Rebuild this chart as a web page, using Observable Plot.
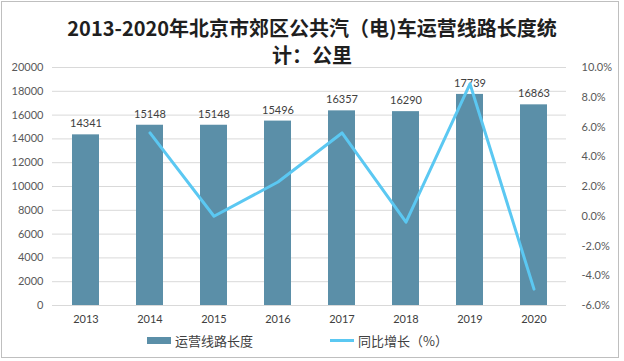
<!DOCTYPE html>
<html><head><meta charset="utf-8">
<script src="https://cdn.jsdelivr.net/npm/d3@7"></script>
<script src="https://cdn.jsdelivr.net/npm/@observablehq/plot@0.6"></script>
<style>
body{margin:0;background:#fff;}
#wrap{position:relative;width:624px;height:361px;overflow:hidden;}
#frame{position:absolute;left:1px;top:1px;width:616px;height:355px;border:1px solid #bfbfbf;}
#title{position:absolute;left:0;top:14px;width:624px;text-align:center;font-family:"Noto Sans CJK SC",sans-serif;font-weight:bold;font-size:20px;line-height:27px;color:#1f1f1f;}
#chart{position:absolute;left:0;top:55px;}
#legend{position:absolute;left:0;top:330px;width:624px;font-family:"Noto Sans CJK SC",sans-serif;font-size:13px;color:#404040;}
.item{position:absolute;top:0;display:flex;align-items:center;height:20px;}
.sw{display:inline-block;margin-right:4px;}
</style></head>
<body><div id="wrap"><div id="frame"></div>
<div id="title">2013-2020年北京市郊区公共汽（电)车运营线路长度统<br>计：公里</div>
<div id="chart"></div>
<div id="legend">
<div class="item" style="left:147px"><span class="sw" style="width:24px;height:7px;background:#5b8fa8"></span>运营线路长度</div>
<div class="item" style="left:330px"><span class="sw" style="width:24px;height:3px;background:#5bc8f2"></span>同比增长（%）</div>
</div>
</div>
<script>
const years = ["2013","2014","2015","2016","2017","2018","2019","2020"];
const lengths = [14341,15148,15148,15496,16357,16290,17739,16863];
const growthYears = ["2014","2015","2016","2017","2018","2019","2020"];
const growth = [5.6,0.0,2.3,5.6,-0.4,8.9,-4.9];
const leftTicks = d3.range(0,20001,2000);
const rightTicks = d3.range(-6,10.01,2);

const toLeft = p => (p+6)/16*20000;
const toRight = v => v/20000*16-6;

const bars = years.map((y,i)=>({year:y, value:lengths[i]}));
const line = growthYears.map((y,i)=>({year:y, g:growth[i], v:toLeft(growth[i])}));

const font = "Lato, 'Liberation Sans', sans-serif";
const chart = Plot.plot({
  width:624, height:280,
  marginTop:12, marginBottom:30, marginLeft:52, marginRight:58,
  style:{fontFamily:font, fontSize:"11px", color:"#595959", background:"transparent"},
  x:{domain:years, paddingInner:0.58, paddingOuter:0.29, label:null},
  y:{domain:[0,20000], label:null},
  marks:[
    Plot.gridY(leftTicks,{stroke:"#d9d9d9", strokeOpacity:1}),
    Plot.axisY({ticks:leftTicks, tickSize:0, tickPadding:9, label:null, tickFormat:d=>String(d), fill:"#595959"}),
    Plot.axisY({anchor:"right", ticks:rightTicks.map(toLeft), tickSize:0, tickPadding:15, label:null, textAnchor:"start", tickFormat:d=>toRight(d).toFixed(1)+"%", fill:"#595959"}),
    Plot.axisX({tickSize:0, tickPadding:10, label:null, fill:"#404040"}),
    Plot.barY(bars,{x:"year", y:"value", fill:"#5b8fa8"}),
    Plot.text(bars,{x:"year", y:"value", text:d=>String(d.value), dy:-11, fill:"#404040", fontSize:11}),
    Plot.line(line,{x:"year", y:"v", stroke:"#5bc8f2", strokeWidth:3}),
  ]
});
document.getElementById("chart").appendChild(chart);
</script></body></html>
